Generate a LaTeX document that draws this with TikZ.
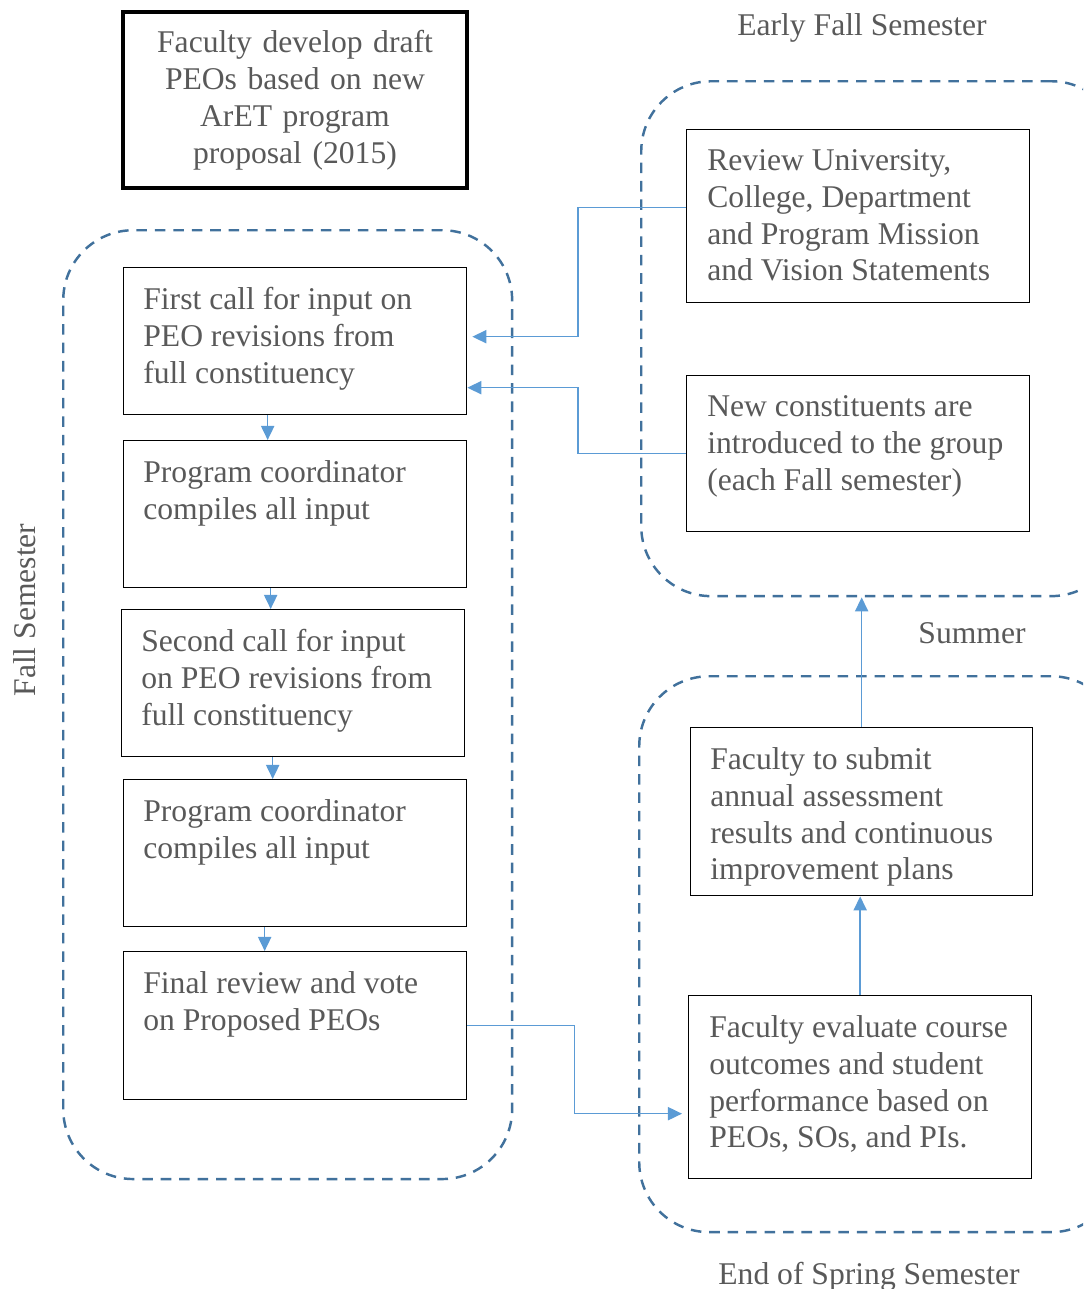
\documentclass[tikz,border=0pt]{standalone}
\usepackage{fontspec}
\setmainfont{Liberation Serif}
\usetikzlibrary{arrows.meta,calc}
\definecolor{txtgray}{RGB}{89,89,89}
\definecolor{zoneblue}{RGB}{65,113,156}
\definecolor{linkblue}{RGB}{91,155,213}

\begin{document}
\begin{tikzpicture}[x=0.02cm,y=-0.02cm,
    zone/.style={draw=zoneblue, line width=1.4pt, dash pattern=on 6pt off 4.5pt,
        rounded corners=1.4cm, anchor=north west, inner sep=0},
    box/.style={draw, line width=0.8pt, anchor=north west, inner sep=0,
        minimum width=6.86cm, minimum height=2.94cm},
    txt/.style={anchor=north west, inner sep=0, align=left, text=txtgray,
        font=\fontsize{18}{21}\selectfont, execute at begin node=\strut},
    lbl/.style={text=txtgray, inner sep=0, font=\fontsize{18}{21}\selectfont},
    link/.style={draw=linkblue, line width=0.85pt, -{Triangle[length=8pt,width=7.5pt]}}]
            \useasboundingbox (0,0) rectangle (1083,1289);
            \clip (0,0) rectangle (1083,1289);
            % time zones
            \node[zone, minimum width=8.98cm, minimum height=18.98cm] (fallzone) at (62,229) {};
            \node[zone, minimum width=9.6cm, minimum height=10.3cm] (earlyzone) at (640,80) {};
            \node[zone, minimum width=9.64cm, minimum height=11.12cm] (springzone) at (638,675) {};
            \node[lbl] (earlyfall) at (862,28) {Early Fall Semester};
            \node[lbl] (summer) at (972,633) {Summer};
            \node[lbl] (endspring) at (869,1277) {End of Spring Semester};
            \node[lbl, rotate=90] (fallsem) at (25,610) {Fall Semester};
            % starting point
            \node[draw, line width=2pt, inner sep=0, minimum width=6.88cm, minimum height=3.52cm,
                text width=6.7cm, align=center, text=txtgray,
                font=\fontsize{18}{21}\selectfont] (draft) at (295,100)
                {Faculty develop draft\\PEOs based on new\\ArET program\\proposal (2015)};
            % fall semester steps
            \node[box] (first) at (123,267) {};
            \node[txt] at ($(first.north west)+(20,20)$) {First call for input on\\PEO revisions from\\full constituency};
            \node[box] (compile1) at (123,440) {};
            \node[txt] at ($(compile1.north west)+(20,20)$) {Program coordinator\\compiles all input};
            \node[box] (second) at (121,609) {};
            \node[txt] at ($(second.north west)+(20,20)$) {Second call for input\\on PEO revisions from\\full constituency};
            \node[box] (compile2) at (123,779) {};
            \node[txt] at ($(compile2.north west)+(20,20)$) {Program coordinator\\compiles all input};
            \node[box, minimum height=2.96cm] (final) at (123,951) {};
            \node[txt] at ($(final.north west)+(20,20)$) {Final review and vote\\on Proposed PEOs};
            % early fall
            \node[box, minimum height=3.46cm] (review) at (686,129) {};
            \node[txt] at ($(review.north west)+(21,20)$) {Review University,\\College, Department\\and Program Mission\\and Vision Statements};
            \node[box, minimum height=3.12cm] (newcomers) at (686,375) {};
            \node[txt] at ($(newcomers.north west)+(21,20)$) {New constituents are\\introduced to the group\\(each Fall semester)};
            % end of spring
            \node[box, minimum width=6.84cm, minimum height=3.36cm] (submit) at (690,727) {};
            \node[txt] at ($(submit.north west)+(20,20)$) {Faculty to submit\\annual assessment\\results and continuous\\improvement plans};
            \node[box, minimum height=3.66cm] (evaluate) at (688,995) {};
            \node[txt] at ($(evaluate.north west)+(21,20)$) {Faculty evaluate course\\outcomes and student\\performance based on\\PEOs, SOs, and PIs.};
            % connectors
            \draw[link] ([xshift=-0.55cm]first.south) -- ([xshift=-0.55cm]first.south |- compile1.north);
            \draw[link] ([xshift=-0.49cm]compile1.south) -- ([xshift=-0.49cm]compile1.south |- second.north);
            \draw[link] ([xshift=-0.41cm]second.south) -- ([xshift=-0.41cm]second.south |- compile2.north);
            \draw[link] ([xshift=-0.61cm]compile2.south) -- ([xshift=-0.61cm]compile2.south |- final.north);
            \draw[link] ([yshift=0.17cm]review.west) -- ++(-108,0) |- ([xshift=0.1cm,yshift=0.09cm]first.east);
            \draw[link] (newcomers.west) -- ++(-108,0) |- ([yshift=-0.93cm]first.east);
            \draw[link] (final.east) -- ++(107,0) |- ([xshift=-0.12cm,yshift=-0.53cm]evaluate.west);
            \draw[link] (evaluate.north) -- (evaluate.north |- submit.south);
            \draw[link] (submit.north) -- (submit.north |- earlyzone.south);
        \end{tikzpicture}
\end{document}
